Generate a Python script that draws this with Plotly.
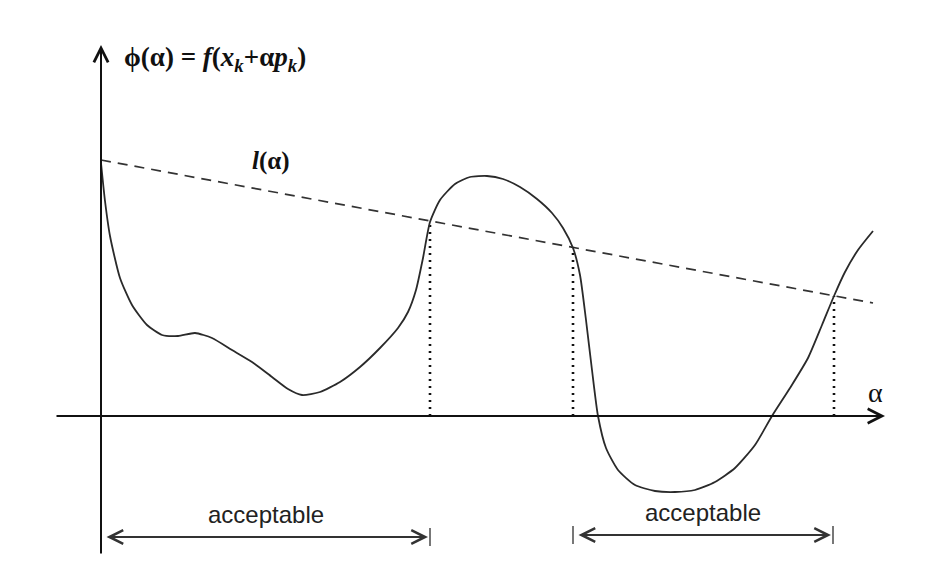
import plotly.graph_objects as go

# phi(alpha) curve
alpha = [0.00, 0.04, 0.09, 0.19, 0.31, 0.46, 0.61, 0.77, 0.94, 1.11, 1.31, 1.51, 1.71, 1.87,
         2.01, 2.19, 2.39, 2.59, 2.79, 2.97, 3.07, 3.15, 3.22, 3.29, 3.39, 3.54, 3.69, 3.86,
         4.02, 4.19, 4.36, 4.51, 4.62, 4.72, 4.79, 4.85, 4.91, 4.97, 5.05, 5.17, 5.34, 5.54,
         5.74, 5.94, 6.14, 6.34, 6.54, 6.71, 6.89, 7.07, 7.21, 7.33, 7.44, 7.57, 7.72]
phi = [2.53, 2.15, 1.80, 1.38, 1.11, 0.91, 0.81, 0.80, 0.83, 0.78, 0.66, 0.54, 0.39, 0.27,
       0.21, 0.24, 0.34, 0.49, 0.68, 0.88, 1.04, 1.26, 1.58, 1.94, 2.16, 2.32, 2.39, 2.40,
       2.37, 2.29, 2.17, 2.03, 1.88, 1.68, 1.41, 0.96, 0.46, 0.00, -0.32, -0.54, -0.69, -0.75,
       -0.76, -0.74, -0.66, -0.52, -0.29, 0.00, 0.28, 0.58, 0.91, 1.20, 1.44, 1.66, 1.85]

# l(alpha) line
l_alpha = [0.0, 7.72]
l_vals = [2.56, 1.13]

# points where phi crosses l(alpha)
cross_alpha = [3.29, 4.72, 7.33]
cross_phi = [1.95, 1.69, 1.20]

# acceptable intervals
intervals = [(0.0, 3.29), (4.72, 7.32)]
interval_y = [-1.21, -1.19]

fig = go.Figure()

# dashed line l(alpha)
fig.add_trace(go.Scatter(x=l_alpha, y=l_vals, mode="lines",
                         line=dict(color="#333", width=1.7, dash="10px,7px")))

# dotted verticals
vx, vy = [], []
for a, p in zip(cross_alpha, cross_phi):
    vx += [a, a, None]
    vy += [0, p, None]
fig.add_trace(go.Scatter(x=vx, y=vy, mode="lines",
                         line=dict(color="#111", width=2.6, dash="2px,5px")))

# the curve
fig.add_trace(go.Scatter(x=alpha, y=phi, mode="lines",
                         line=dict(color="#2a2a2a", width=1.8, shape="spline", smoothing=0.6)))

# small end ticks of the intervals
tx, ty = [], []
for (a0, a1), iy in zip(intervals, interval_y):
    for a in (a0, a1):
        if a == 0.0:
            continue
        tx += [a, a, None]
        ty += [iy - 0.09, iy + 0.09, None]
fig.add_trace(go.Scatter(x=tx, y=ty, mode="lines", line=dict(color="#555", width=1.6)))

# axes drawn as arrows
fig.add_annotation(x=7.84, y=0, ax=-0.46, ay=0, xref="x", yref="y", axref="x", ayref="y",
                   showarrow=True, arrowhead=5, arrowsize=1.4, arrowwidth=2,
                   arrowcolor="#111", text="")
fig.add_annotation(x=0, y=3.71, ax=0, ay=-1.39, xref="x", yref="y", axref="x", ayref="y",
                   showarrow=True, arrowhead=5, arrowsize=1.4, arrowwidth=2,
                   arrowcolor="#111", text="")

# acceptable double arrows
for (a0, a1), iy in zip(intervals, interval_y):
    fig.add_annotation(x=a1 - 0.02, y=iy, ax=a0 + 0.04, ay=iy, xref="x", yref="y",
                       axref="x", ayref="y", showarrow=True, arrowhead=5,
                       startarrowhead=5, arrowside="end+start", arrowsize=1.5,
                       startarrowsize=1.5, arrowwidth=1.8, arrowcolor="#333", text="")
    fig.add_annotation(x=(a0 + a1) / 2, y=iy + 0.23, text="acceptable", showarrow=False,
                       font=dict(family="Liberation Sans Narrow, Liberation Sans", size=24,
                                 color="#222"))

serif = "Liberation Serif, Times New Roman, serif"
fig.add_annotation(x=0.21, y=3.57, xanchor="left", showarrow=False,
                   text="<b>ϕ(α) = <i>f</i>(<i>x</i><sub><i>k</i></sub>+α<i>p</i><sub><i>k</i></sub>)</b>",
                   font=dict(family=serif, size=27, color="#111"))
fig.add_annotation(x=1.49, y=2.55, xanchor="left", showarrow=False,
                   text="<b><i>l</i>(α)</b>", font=dict(family=serif, size=25, color="#111"))
fig.add_annotation(x=7.74, y=0.24, showarrow=False, text="α",
                   font=dict(family=serif, size=28, color="#111"))

# ranges shifted by the page's 8px body margin
fig.update_layout(
    width=928, height=574,
    margin=dict(l=0, r=0, t=0, b=0),
    paper_bgcolor="white", plot_bgcolor="white",
    showlegend=False,
    xaxis=dict(visible=False, range=[-0.93, 8.35], fixedrange=True),
    yaxis=dict(visible=False, range=[-1.66, 4.08], fixedrange=True),
)

fig.write_html("out.html")
